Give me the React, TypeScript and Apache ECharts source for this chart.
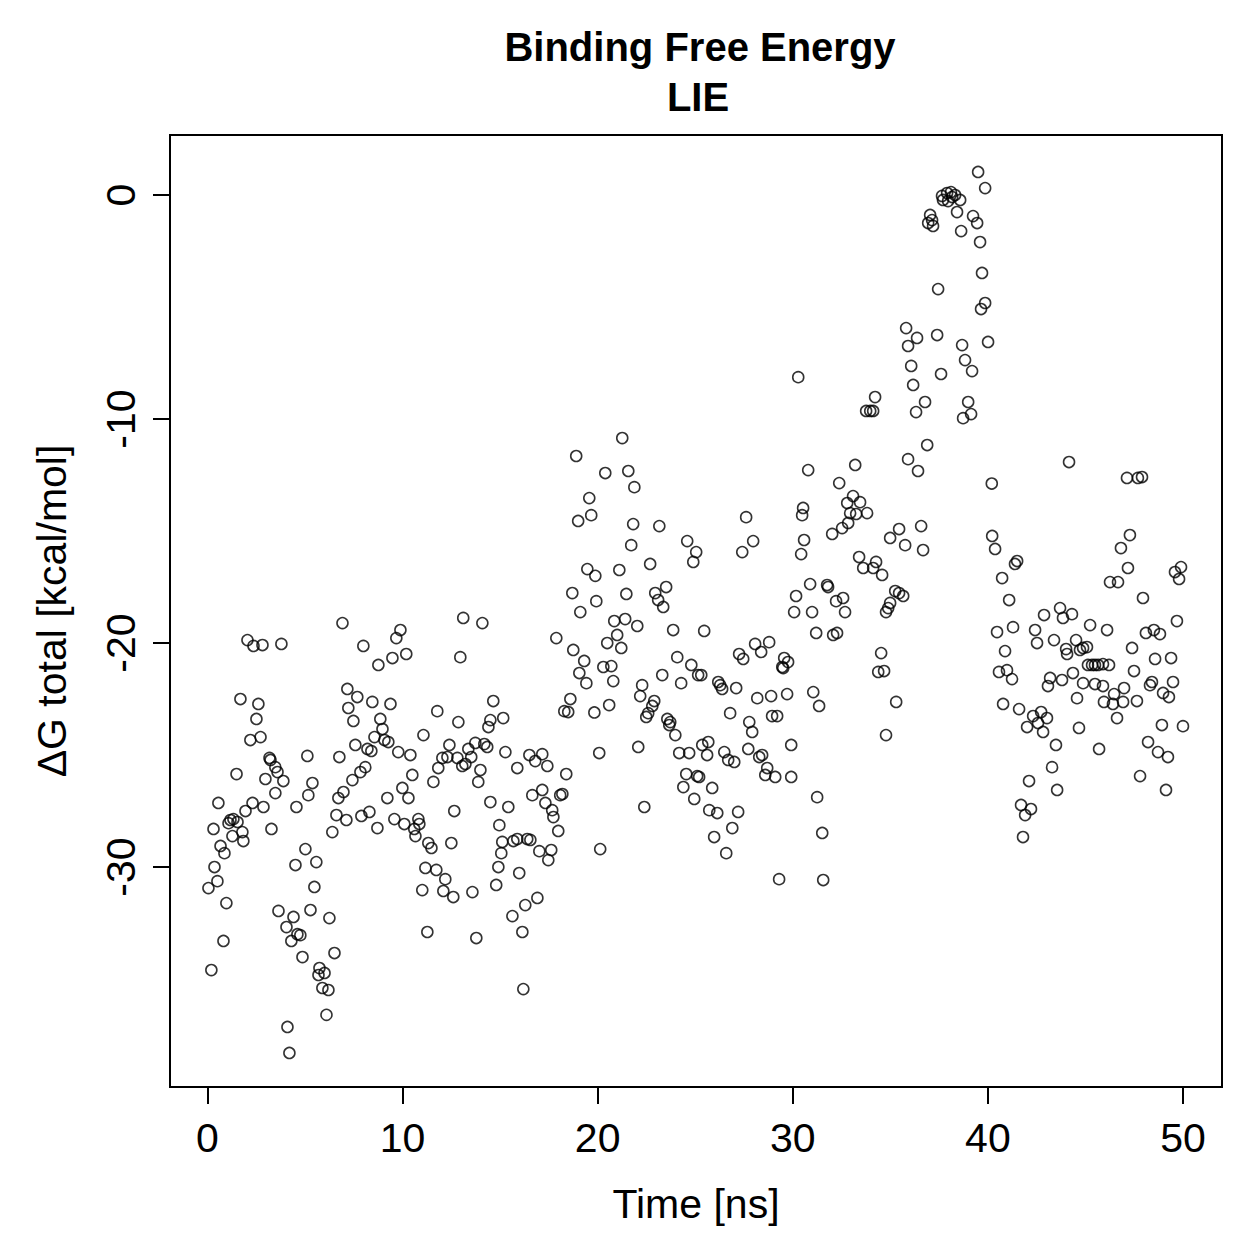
import React, { useEffect, useRef } from "react";
import * as echarts from "echarts";

// Time [ns], ΔG total [kcal/mol] pairs, grouped by time window
const t0to10: [number, number][] = [
  [2.05,-19.87],[2.36,-20.13],[2.82,-20.09],[3.79,-20.04],[1.69,-22.5],[2.61,-22.72],[2.51,-23.39],[2.2,-24.33],[2.72,-24.2],[3.18,-25.13],[3.23,-25.22],[3.48,-25.54],[3.59,-25.76],[3.89,-26.16],[1.49,-25.85],[2.97,-26.07],[3.48,-26.7],[0.56,-27.14],[2.31,-27.14],[1.95,-27.5],[2.87,-27.32],[4.56,-27.32],[1.18,-27.9],[1.33,-27.86],[1.54,-27.99],[1.08,-28.04],[0.31,-28.3],[1.79,-28.44],[1.28,-28.62],[1.84,-28.84],[3.28,-28.3],[0.67,-29.06],[0.87,-29.38],[0.36,-30.0],[0.51,-30.63],[0.05,-30.94],[4.51,-29.91],[0.97,-31.61],[3.64,-31.96],[4.41,-32.23],[4.05,-32.68],[4.3,-33.3],[0.82,-33.3],[0.2,-34.6],[4.1,-37.14],[4.2,-38.3],
  [6.92,-19.11],[7.99,-20.13],[8.76,-20.98],[9.48,-20.67],[9.68,-19.78],[9.89,-19.42],[7.17,-22.05],[7.68,-22.41],[7.22,-22.9],[7.48,-23.48],[8.45,-22.63],[9.38,-22.72],[8.86,-23.39],[8.97,-23.84],[8.56,-24.2],[9.07,-24.33],[9.27,-24.42],[9.78,-24.87],[7.58,-24.55],[8.2,-24.73],[8.4,-24.82],[5.12,-25.04],[6.76,-25.09],[8.09,-25.54],[7.84,-25.76],[7.43,-26.12],[6.97,-26.65],[6.71,-26.92],[5.38,-26.25],[5.17,-26.79],[9.22,-26.92],[6.61,-27.68],[7.12,-27.9],[7.89,-27.72],[8.3,-27.54],[8.71,-28.26],[9.58,-27.86],[6.4,-28.44],[5.02,-29.2],[5.58,-29.78],[5.48,-30.89],[5.28,-31.92],[6.25,-32.28],[4.76,-33.04],[4.61,-33.0],[4.87,-34.02],[6.51,-33.84],[5.74,-34.51],[5.69,-34.82],[6.0,-34.73],[5.89,-35.4],[6.2,-35.49],[6.1,-36.6],
];

const t10to20: [number, number][] = [
  [13.11,-18.88],[14.09,-19.11],[12.96,-20.63],[10.19,-20.49],[11.78,-23.04],[12.86,-23.53],[14.5,-23.44],[14.4,-23.75],[11.07,-24.11],[12.4,-24.55],[13.37,-24.73],[13.73,-24.46],[14.19,-24.51],[14.34,-24.64],[10.4,-25.0],[12.04,-25.13],[12.3,-25.09],[12.81,-25.13],[13.52,-25.09],[13.22,-25.4],[13.06,-25.49],[11.83,-25.58],[13.99,-25.67],[13.88,-26.2],[10.5,-25.89],[11.58,-26.2],[9.99,-26.47],[10.3,-26.92],[14.5,-27.1],[12.65,-27.5],[10.81,-27.86],[10.86,-28.08],[10.09,-28.08],[10.6,-28.3],[10.66,-28.62],[11.32,-28.93],[11.48,-29.15],[12.5,-28.93],[11.17,-30.04],[11.73,-30.13],[12.19,-30.54],[11.01,-31.03],[12.09,-31.07],[12.6,-31.34],[13.58,-31.12],[11.27,-32.9],[13.78,-33.17],[14.65,-22.59],
  [15.16,-23.35],[15.27,-24.87],[15.42,-27.32],[14.96,-28.13],[15.11,-28.88],[15.06,-29.38],[14.91,-30.0],[14.8,-30.8],
  [18.9,-11.65],[19.57,-13.53],[19.67,-14.29],[19.0,-14.55],[19.47,-16.7],[19.88,-17.0],[18.7,-17.77],[19.93,-18.13],[19.11,-18.62],[17.88,-19.78],[18.75,-20.31],[19.31,-20.8],[19.06,-21.34],[19.42,-21.79],[18.6,-22.5],[18.29,-23.04],[18.49,-23.08],[15.88,-25.58],[16.5,-25.0],[16.8,-25.27],[17.16,-24.96],[17.42,-25.49],[18.39,-25.85],[17.16,-26.56],[16.65,-26.79],[17.32,-27.14],[17.67,-27.46],[17.73,-27.77],[18.08,-26.79],[18.19,-26.74],[17.98,-28.39],[15.68,-28.84],[15.88,-28.75],[16.39,-28.75],[16.55,-28.79],[17.01,-29.29],[17.62,-29.24],[17.47,-29.69],[15.98,-30.27],[16.91,-31.38],[16.29,-31.7],[15.63,-32.19],[16.14,-32.9],[16.19,-35.45],[19.83,-23.1],[20.08,-24.91],
];

const t20to30: [number, number][] = [
  [21.26,-10.85],[20.39,-12.41],[21.57,-12.32],[21.88,-13.04],[21.82,-14.69],[23.16,-14.78],[21.72,-15.63],[24.59,-15.45],[25.05,-15.94],[24.9,-16.38],[22.69,-16.47],[21.11,-16.74],[21.47,-17.81],[23.51,-17.5],[22.95,-17.77],[23.1,-18.08],[23.36,-18.39],[20.85,-19.02],[21.41,-18.93],[22.03,-19.24],[23.87,-19.42],[21.0,-19.64],[20.49,-20.0],[21.21,-20.22],[24.08,-20.63],[24.8,-20.98],[25.15,-21.43],[20.29,-21.07],[20.7,-21.03],[20.8,-21.7],[23.31,-21.43],[24.28,-21.79],[22.28,-21.88],[22.18,-22.37],[22.9,-22.59],[22.8,-22.81],[22.59,-23.13],[22.49,-23.3],[20.59,-22.77],[23.57,-23.39],[23.72,-23.53],[23.67,-23.66],[23.98,-24.11],[22.08,-24.64],[24.18,-24.91],[24.69,-24.91],[24.54,-25.85],[25.1,-25.94],[24.39,-26.43],[24.95,-26.96],[22.39,-27.32],[20.13,-29.2],
  [27.61,-14.38],[27.97,-15.45],[27.41,-15.94],[25.46,-19.46],[28.07,-20.04],[28.79,-19.96],[27.25,-20.49],[27.46,-20.71],[28.38,-20.4],[29.56,-20.67],[29.76,-20.85],[29.46,-21.07],[29.51,-21.12],[25.31,-21.43],[26.18,-21.74],[26.28,-21.88],[26.38,-22.05],[27.1,-22.01],[28.18,-22.46],[28.89,-22.37],[29.71,-22.28],[26.79,-23.13],[27.77,-23.53],[27.92,-23.97],[28.94,-23.26],[29.2,-23.26],[29.92,-24.55],[25.36,-24.55],[25.67,-24.42],[25.61,-25.0],[26.49,-24.87],[26.69,-25.22],[27.0,-25.31],[27.72,-24.73],[28.28,-25.09],[28.43,-25.0],[28.69,-25.58],[28.59,-25.89],[29.1,-25.98],[29.92,-25.98],[25.2,-25.98],[25.87,-26.47],[25.72,-27.46],[26.13,-27.59],[27.2,-27.54],[26.9,-28.26],[25.97,-28.66],[26.59,-29.38],[29.3,-30.54],
];

const t30to40: [number, number][] = [
  [30.28,-8.13],[34.22,-9.02],[33.76,-9.64],[33.97,-9.64],[34.12,-9.64],[30.79,-12.28],[33.2,-12.05],[32.38,-12.86],[30.53,-13.97],[30.48,-14.29],[32.79,-13.75],[33.09,-13.44],[33.45,-13.71],[33.81,-14.2],[32.94,-14.2],[33.25,-14.24],[32.84,-14.64],[32.53,-14.87],[32.02,-15.13],[30.58,-15.4],[30.43,-16.03],[34.99,-15.31],[33.4,-16.16],[33.61,-16.65],[34.27,-16.38],[34.12,-16.65],[34.58,-16.96],[30.89,-17.37],[31.76,-17.41],[31.81,-17.5],[32.22,-18.13],[32.58,-17.99],[32.68,-18.62],[30.17,-17.9],[30.07,-18.62],[30.99,-18.62],[34.78,-18.62],[34.89,-18.44],[31.2,-19.55],[32.07,-19.64],[32.27,-19.55],[34.53,-20.45],[34.38,-21.29],[34.68,-21.25],[31.05,-22.19],[31.35,-22.81],[34.78,-24.11],[31.25,-26.88],[31.51,-28.48],[31.56,-30.58],
  [39.5,1.03],[39.86,0.31],[37.65,-0.04],[37.91,0.09],[38.11,0.13],[38.32,0.0],[38.58,-0.22],[37.96,-0.27],[37.7,-0.22],[38.17,-0.09],[38.42,-0.76],[39.24,-0.94],[39.45,-1.25],[38.63,-1.61],[39.6,-2.1],[37.04,-0.89],[36.94,-1.25],[37.19,-1.38],[37.14,-1.12],[39.7,-3.48],[37.45,-4.2],[39.65,-5.09],[39.86,-4.82],[35.81,-5.94],[36.37,-6.38],[35.91,-6.74],[37.4,-6.25],[38.68,-6.7],[38.83,-7.37],[39.19,-7.86],[40.01,-6.56],[36.07,-7.63],[37.6,-7.99],[36.17,-8.48],[36.78,-9.24],[36.32,-9.69],[38.99,-9.24],[39.14,-9.78],[38.73,-9.96],[36.89,-11.16],[35.91,-11.79],[36.42,-12.32],[36.58,-14.78],[35.45,-14.91],[35.76,-15.63],[36.68,-15.85],[35.25,-17.68],[35.45,-17.77],[35.66,-17.9],[34.99,-18.21],[35.3,-22.63],
];

const t40to50: [number, number][] = [
  [40.2,-12.88],[44.16,-11.92],[40.22,-15.22],[40.37,-15.8],[41.5,-16.34],[41.39,-16.47],[40.73,-17.1],[41.09,-18.08],[42.88,-18.75],[43.7,-18.44],[43.85,-18.88],[44.31,-18.71],[45.24,-19.2],[41.29,-19.29],[40.47,-19.51],[42.42,-19.42],[42.52,-20.0],[43.39,-19.87],[44.52,-19.87],[44.01,-20.27],[44.06,-20.49],[44.72,-20.31],[44.88,-20.22],[45.08,-20.18],[40.88,-20.36],[40.57,-21.29],[40.98,-21.21],[41.24,-21.61],[43.19,-21.56],[43.08,-21.92],[43.8,-21.65],[44.36,-21.34],[44.88,-21.79],[44.57,-22.46],[40.78,-22.72],[41.6,-22.95],[42.32,-23.26],[42.73,-23.08],[43.03,-23.35],[42.01,-23.75],[42.57,-23.57],[42.83,-23.97],[44.67,-23.79],[43.49,-24.55],[43.29,-25.54],[42.11,-26.16],[43.55,-26.56],[41.7,-27.23],[42.21,-27.41],[41.91,-27.68],[41.8,-28.66],
  [47.13,-12.63],[47.69,-12.63],[47.9,-12.59],[47.28,-15.18],[46.82,-15.76],[47.18,-16.65],[46.26,-17.28],[46.67,-17.28],[49.9,-16.61],[49.59,-16.83],[49.8,-17.14],[47.95,-17.99],[49.69,-19.02],[46.11,-19.42],[48.1,-19.55],[48.51,-19.42],[48.82,-19.6],[47.39,-20.22],[48.57,-20.71],[49.39,-20.67],[45.13,-20.98],[45.34,-20.98],[45.49,-20.98],[45.65,-20.98],[45.9,-20.94],[46.21,-20.98],[47.49,-21.25],[45.49,-21.83],[45.9,-21.92],[46.98,-22.01],[48.31,-21.88],[48.41,-21.74],[49.49,-21.74],[46.47,-22.28],[48.98,-22.23],[49.28,-22.41],[45.95,-22.63],[46.41,-22.72],[46.93,-22.63],[47.64,-22.59],[46.62,-23.35],[48.92,-23.66],[50.0,-23.71],[45.7,-24.73],[48.21,-24.42],[48.72,-24.87],[49.23,-25.09],[47.8,-25.94],[49.13,-26.56],
];

const xTicks = [0, 10, 20, 30, 40, 50];
const yTicks = [-30, -20, -10, 0];
const titleLines = ["Binding Free Energy", "LIE"];
const xName = "Time [ns]";
const yName = "ΔG total [kcal/mol]";

const FONT = "'Liberation Sans', Arial, Helvetica, sans-serif";

export default function App() {
  const ref = useRef<HTMLDivElement>(null);
  useEffect(() => {
    document.body.style.margin = "0";
    if (!ref.current) return;
    const chart = echarts.init(ref.current, undefined, { renderer: "svg" });
    const points = [...t0to10, ...t10to20, ...t20to30, ...t30to40, ...t40to50];
    chart.setOption({
      animation: false,
      backgroundColor: "#fff",
      grid: {
        left: 170,
        top: 135,
        width: 1052,
        height: 952,
        show: true,
        borderColor: "#000",
        borderWidth: 2,
        backgroundColor: "transparent",
      },
      xAxis: {
        type: "value",
        min: -1.92,
        max: 52,
        position: "bottom",
        axisLine: { show: false, onZero: false },
        splitLine: { show: false },
        axisTick: {
          show: true,
          customValues: xTicks,
          length: 17,
          lineStyle: { color: "#000", width: 2 },
        },
        axisLabel: {
          customValues: xTicks,
          fontSize: 41,
          fontFamily: FONT,
          color: "#000",
          margin: 30,
        },
      },
      yAxis: {
        type: "value",
        min: -39.82,
        max: 2.68,
        position: "left",
        axisLine: { show: false, onZero: false },
        splitLine: { show: false },
        axisTick: {
          show: true,
          customValues: yTicks,
          length: 17,
          lineStyle: { color: "#000", width: 2 },
        },
        axisLabel: {
          customValues: yTicks,
          rotate: 90,
          fontSize: 41,
          fontFamily: FONT,
          color: "#000",
          margin: 29,
        },
      },
      graphic: [
        {
          type: "text",
          x: 700,
          y: 47,
          style: {
            text: titleLines[0],
            font: `bold 40px ${FONT}`,
            fill: "#000",
            textAlign: "center",
            textVerticalAlign: "middle",
          },
        },
        {
          type: "text",
          x: 698,
          y: 97,
          style: {
            text: titleLines[1],
            font: `bold 40px ${FONT}`,
            fill: "#000",
            textAlign: "center",
            textVerticalAlign: "middle",
          },
        },
        {
          type: "text",
          x: 696,
          y: 1204,
          style: {
            text: xName,
            font: `41px ${FONT}`,
            fill: "#000",
            textAlign: "center",
            textVerticalAlign: "middle",
          },
        },
        {
          type: "text",
          x: 52,
          y: 611,
          rotation: Math.PI / 2,
          style: {
            text: yName,
            font: `41px ${FONT}`,
            fill: "#000",
            textAlign: "center",
            textVerticalAlign: "middle",
          },
        },
      ],
      series: [
        {
          type: "scatter",
          data: points,
          symbol: "circle",
          symbolSize: 11,
          silent: true,
          itemStyle: {
            color: "rgba(0,0,0,0)",
            borderColor: "#000",
            borderWidth: 1.6,
          },
        },
      ],
    });
    return () => chart.dispose();
  }, []);
  return <div ref={ref} style={{ width: 1259, height: 1259 }} />;
}
